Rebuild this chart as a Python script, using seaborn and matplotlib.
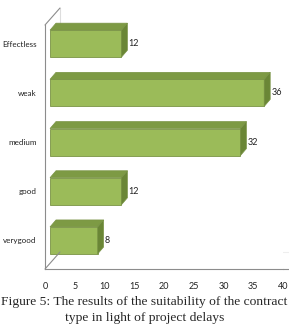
import numpy as np
import pandas as pd
import seaborn as sns
import matplotlib
matplotlib.use('Agg')
import matplotlib.pyplot as plt
from matplotlib.patches import Polygon
from matplotlib.transforms import ScaledTranslation, IdentityTransform
from matplotlib.lines import Line2D

# Data
categories = ['Effectless', 'weak', 'medium', 'good', 'verygood']
values = [12, 36, 32, 12, 8]
xticks = [0, 5, 10, 15, 20, 25, 30, 35, 40]

front_color = '#9bbb59'
top_color = '#7d9a44'
side_color = '#6a8636'
edge_color = '#7a9446'

sns.set_style('white')
plt.rcParams['font.family'] = ['Lato', 'DejaVu Sans']

DPI = 100
W, H = 289, 327
fig = plt.figure(figsize=(W / DPI, H / DPI), dpi=DPI)
ax = fig.add_axes([45 / W, 58 / H, 238 / W, 244 / H])

df = pd.DataFrame({'category': categories, 'value': values})
sns.barplot(data=df, x='value', y='category', color=front_color, orient='h',
            width=0.55, saturation=1, edgecolor=edge_color, linewidth=0.6, ax=ax)

ax.set_xlim(0, 40)
ax.set_ylim(4.58, -0.38)
ax.set_xticks(xticks)
ax.set_xlabel('')
ax.set_ylabel('')
ax.tick_params(axis='both', length=0, labelsize=6.5, colors='#222222')
ax.tick_params(axis='y', pad=6, labelsize=5.8)
ax.tick_params(axis='x', pad=9.5)
for s in ['top', 'right']:
    ax.spines[s].set_visible(False)
for s in ['left', 'bottom']:
    ax.spines[s].set_color('#8c8c8c')
    ax.spines[s].set_linewidth(0.8)

# 3D look: shift bars back and add top / side faces
shift = 5  # px
dx, dy = 6, 7  # depth offset in px
off = ScaledTranslation(shift / DPI, 0, fig.dpi_scale_trans)
fig.canvas.draw()
for p in ax.patches:
    p.set_transform(ax.transData + off)
    x0, y0 = p.get_x(), p.get_y()
    w, h = p.get_width(), p.get_height()
    # display coords (y up)
    (ax0, ay_bot), (ax1, ay_top) = ax.transData.transform([(x0, y0 + h), (x0 + w, y0)])
    ax0 += shift
    ax1 += shift
    top = Polygon([(ax0, ay_top), (ax1, ay_top), (ax1 + dx, ay_top + dy), (ax0 + dx, ay_top + dy)],
                  closed=True, transform=IdentityTransform(), facecolor=top_color,
                  edgecolor=edge_color, linewidth=0.5)
    side = Polygon([(ax1, ay_bot), (ax1, ay_top), (ax1 + dx, ay_top + dy), (ax1 + dx, ay_bot + dy)],
                   closed=True, transform=IdentityTransform(), facecolor=side_color,
                   edgecolor=edge_color, linewidth=0.5)
    fig.add_artist(top)
    fig.add_artist(side)
    fig.text((ax1 + dx + 1) / W, ((ay_top + ay_bot) / 2) / H, f'{int(w)}',
             fontsize=6.5, va='center', ha='left', color='#222222')

# back wall and floor edges
wx, wy = 15, 17
left_x, bot_y = ax.transData.transform((0, 4.58))
_, top_y = ax.transData.transform((0, -0.38))
right_x, _ = ax.transData.transform((40, 4.58))
grey = '#8c8c8c'
fig.add_artist(Line2D([left_x, left_x + wx], [top_y, top_y + wy], transform=IdentityTransform(),
                      color=grey, lw=0.8))
fig.add_artist(Line2D([left_x, left_x + wx], [bot_y, bot_y + wy], transform=IdentityTransform(),
                      color=grey, lw=0.8))
fig.add_artist(Line2D([right_x, W], [bot_y, bot_y], transform=IdentityTransform(),
                      color=grey, lw=0.8))
fig.add_artist(Line2D([left_x + wx, left_x + wx], [bot_y + wy, top_y + wy], transform=IdentityTransform(),
                      color='#dddddd', lw=0.8, zorder=0))
fig.add_artist(Line2D([left_x + wx, right_x + 6], [bot_y + wy, bot_y + wy], transform=IdentityTransform(),
                      color='#eeeeee', lw=0.8, zorder=0))

serif = ['Liberation Serif', 'DejaVu Serif']
fig.text(0.5, 22 / H, 'Figure 5: The results of the suitability of the contract',
         ha='center', va='baseline', fontsize=9.7, family=serif)
fig.text(0.5, 6 / H, 'type in light of project delays',
         ha='center', va='baseline', fontsize=9.7, family=serif)

fig.savefig('out.png', dpi=DPI)
plt.close(fig)
